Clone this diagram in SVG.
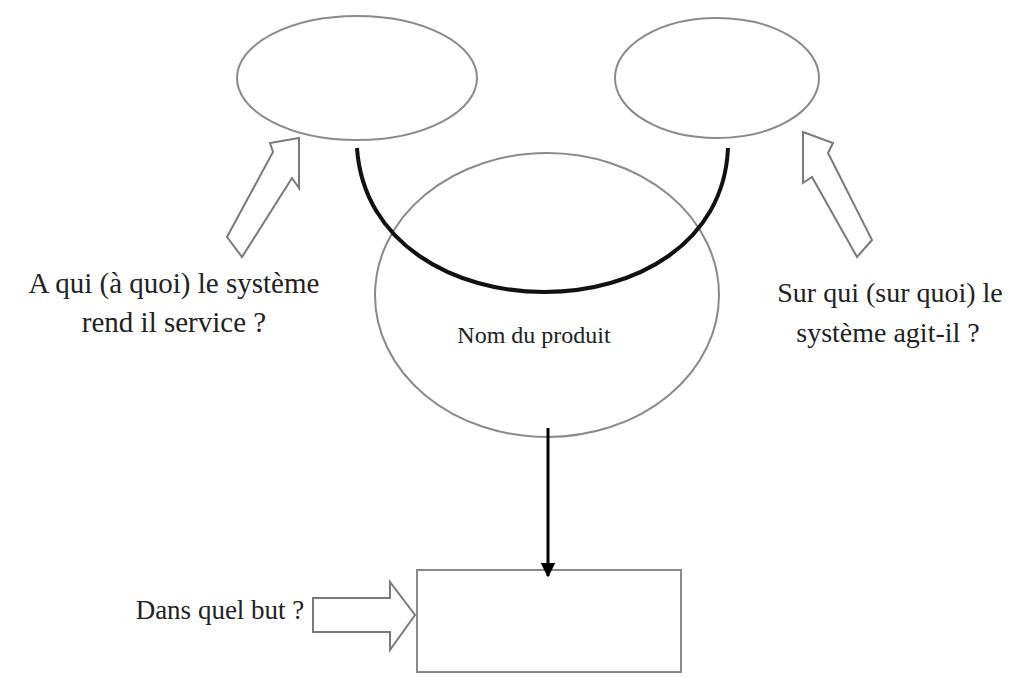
<svg xmlns="http://www.w3.org/2000/svg" width="1017" height="678" viewBox="0 0 1017 678">
  <defs>
    <style>
      .shape { fill: none; stroke: #8a8a8a; stroke-width: 2; }
      .hollow { fill: #ffffff; stroke: #7a7a7a; stroke-width: 2; stroke-linejoin: miter; }
      .label { font-family: "Liberation Serif", "Times New Roman", serif; fill: #222222; text-anchor: middle; }
    </style>
    <marker id="head" viewBox="0 0 10 10" refX="9" refY="5" markerWidth="5" markerHeight="6" orient="auto" markerUnits="strokeWidth">
      <path d="M0,0 L10,5 L0,10 Z" fill="#000"/>
    </marker>
  </defs>
  <rect width="1017" height="678" fill="#ffffff"/>

  <!-- external environment: who the system serves -->
  <g id="node-user">
    <ellipse class="shape" cx="357" cy="78" rx="120" ry="62"/>
  </g>

  <!-- external environment: what the system acts on -->
  <g id="node-matter">
    <ellipse class="shape" cx="717" cy="78" rx="102" ry="60"/>
  </g>

  <!-- the product -->
  <g id="node-product">
    <ellipse class="shape" cx="547" cy="295" rx="172" ry="142"/>
    <text class="label" x="534" y="343" font-size="24">Nom du produit</text>
  </g>

  <!-- purpose box -->
  <g id="node-purpose">
    <rect class="shape" x="417" y="570" width="264" height="102"/>
  </g>

  <!-- question labels with hollow pointers -->
  <g id="label-user">
    <polygon class="hollow" points="299,138 270,143 273,152 227,237 242,257 292,178 299,188"/>
    <text class="label" x="174" y="293" font-size="29">A qui (à quoi) le système</text>
    <text class="label" x="174" y="332" font-size="29">rend il service ?</text>
  </g>

  <g id="label-matter">
    <polygon class="hollow" points="803,132 833,143 828,153 872,240 857,257 812,177 803,183"/>
    <text class="label" x="890" y="302" font-size="28">Sur qui (sur quoi) le</text>
    <text class="label" x="888" y="342" font-size="28">système agit-il ?</text>
  </g>

  <g id="label-purpose">
    <polygon class="hollow" points="313,598 390,598 390,582 415,615 390,650 390,632 313,632"/>
    <text class="label" x="220" y="619" font-size="27">Dans quel but ?</text>
  </g>

  <!-- connectors -->
  <g id="connectors">
    <path d="M357,148 C370,340 720,340 728,148" fill="none" stroke="#111" stroke-width="4"/>
    <line x1="548" y1="428" x2="548" y2="576" stroke="#000" stroke-width="3" marker-end="url(#head)"/>
  </g>
</svg>
